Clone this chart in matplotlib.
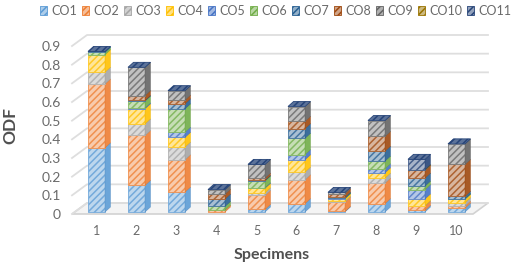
import matplotlib
matplotlib.use('Agg')
import matplotlib.pyplot as plt
from matplotlib.patches import Patch

plt.rcParams['font.family'] = ['Lato', 'DejaVu Sans']
plt.rcParams['hatch.linewidth'] = 1.1

series = ['CO1', 'CO2', 'CO3', 'CO4', 'CO5', 'CO6', 'CO7', 'CO8', 'CO9', 'CO10', 'CO11']
colors = ['#5B9BD5', '#ED7D31', '#A5A5A5', '#FFC000', '#4472C4', '#70AD47',
          '#255E91', '#9E480E', '#636363', '#997300', '#264478']
specimens = [1, 2, 3, 4, 5, 6, 7, 8, 9, 10]

co1 = [0.344, 0.143, 0.107, 0.000, 0.014, 0.045, 0.003, 0.045, 0.009, 0.021]
co2 = [0.342, 0.267, 0.173, 0.010, 0.075, 0.128, 0.050, 0.110, 0.023, 0.011]
co3 = [0.063, 0.062, 0.068, 0.000, 0.014, 0.041, 0.005, 0.027, 0.002, 0.018]
co4 = [0.094, 0.081, 0.052, 0.000, 0.024, 0.066, 0.013, 0.028, 0.036, 0.018]
co5 = [0.000, 0.005, 0.028, 0.000, 0.003, 0.028, 0.002, 0.022, 0.050, 0.002]
co6 = [0.012, 0.036, 0.125, 0.020, 0.036, 0.087, 0.002, 0.041, 0.019, 0.002]
co7 = [0.005, 0.004, 0.027, 0.040, 0.004, 0.052, 0.005, 0.053, 0.043, 0.012]
co8 = [0.000, 0.026, 0.020, 0.026, 0.012, 0.039, 0.018, 0.079, 0.041, 0.171]
co9 = [0.000, 0.151, 0.050, 0.024, 0.073, 0.079, 0.007, 0.085, 0.002, 0.110]
co10 = [0.000, 0.000, 0.000, 0.000, 0.000, 0.000, 0.000, 0.000, 0.002, 0.000]
co11 = [0.000, 0.000, 0.000, 0.000, 0.000, 0.000, 0.000, 0.000, 0.055, 0.000]
values = [co1, co2, co3, co4, co5, co6, co7, co8, co9, co10, co11]

yticks = [0, 0.1, 0.2, 0.3, 0.4, 0.5, 0.6, 0.7, 0.8, 0.9]

W, H = 512, 267
fig = plt.figure(figsize=(W / 100, H / 100), dpi=100)
ax = fig.add_axes([72 / W, (H - 214) / H, 401 / W, 168 / H])
ax.set_xlim(0.3875, 10.4125)
ax.set_ylim(0, 0.9)

# pixel sizes turned into data units for the fake 3d depth
px = 1 / 40
py = 0.9 / 168
wall_dx, wall_dy = 15 * px, 11 * py
bar_w, bar_dx, bar_dy = 17 * px, 5.5 * px, 5 * py
base = 2 * py


def mix(c, amount):
    r, g, b = matplotlib.colors.to_rgb(c)
    return (r + (1 - r) * amount, g + (1 - g) * amount, b + (1 - b) * amount)


def dark(c, amount):
    r, g, b = matplotlib.colors.to_rgb(c)
    return (r * amount, g * amount, b * amount)


# floor and walls
x0, x1 = ax.get_xlim()
ax.fill([x0, x1, x1 + wall_dx, x0 + wall_dx], [0, 0, wall_dy, wall_dy],
        fc='#f4f4f4', ec='#d2d2d2', lw=1.2, clip_on=False, zorder=1)
for v in yticks:
    ax.plot([x0, x0 + wall_dx, x1 + wall_dx], [v, v + wall_dy, v + wall_dy],
            color='#dedede', lw=1.3, clip_on=False, zorder=1)

# stacked bars
for i, s in enumerate(specimens):
    left = s - bar_w / 2
    right = s + bar_w / 2
    bottom = base
    for j, vals in enumerate(values):
        v = vals[i]
        if v <= 0:
            continue
        top = bottom + v
        c = colors[j]
        ax.fill([left, right, right, left], [bottom, bottom, top, top], fc=mix(c, 0.6),
                ec=mix(c, 0.15), hatch='/////', lw=0.6, clip_on=False, zorder=3)
        ax.fill([right, right + bar_dx, right + bar_dx, right],
                [bottom, bottom + bar_dy, top + bar_dy, top], fc=mix(c, 0.1),
                ec=dark(c, 0.9), lw=0.3, clip_on=False, zorder=3)
        bottom = top
    # cap takes the colour of the last series
    ax.fill([left, right, right + bar_dx, left + bar_dx],
            [bottom, bottom, bottom + bar_dy, bottom + bar_dy], fc=mix(colors[-1], 0.25),
            ec=colors[-1], hatch='/////', lw=0.6, clip_on=False, zorder=4)

for sp in ax.spines.values():
    sp.set_visible(False)
ax.set_facecolor('none')
ax.set_xticks(specimens)
ax.set_yticks(yticks)
ax.set_yticklabels(['0', '0.1', '0.2', '0.3', '0.4', '0.5', '0.6', '0.7', '0.8', '0.9'])
ax.tick_params(axis='y', length=0, pad=8, labelsize=10, labelcolor='#6a6a6a')
ax.tick_params(axis='x', length=0, pad=8, labelsize=9, labelcolor='#6a6a6a')

fig.text(10 / W, 1 - 125 / H, 'ODF', rotation=90, ha='center', va='center',
         fontsize=12.5, fontweight='bold', color='#505050')
fig.text(272 / W, 1 - 255 / H, 'Specimens', ha='center', va='center',
         fontsize=11.5, fontweight='bold', color='#505050')

handles = [Patch(fc=mix(c, 0.5), ec=c, hatch='/////', lw=0.6) for c in colors]
fig.legend(handles, series, ncol=11, loc='upper left', bbox_to_anchor=(36 / W, 1 - 1 / H),
           frameon=False, fontsize=9, labelcolor='#6a6a6a', handlelength=0.55, handleheight=0.7,
           handletextpad=0.35, columnspacing=0.4, borderpad=0.3, borderaxespad=0)

fig.savefig('out.png', dpi=100)
